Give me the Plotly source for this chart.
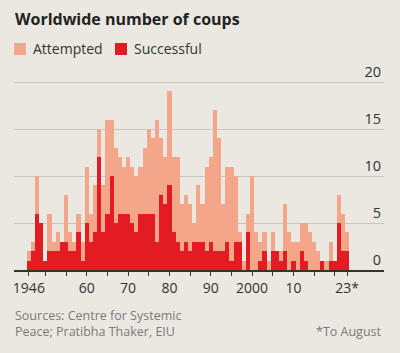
import plotly.graph_objects as go

years = list(range(1946, 2024))
attempted = [2, 3, 10, 5, 1, 6, 3, 4, 3, 8, 4, 3, 6, 3, 11, 6, 9, 15, 9, 16,
             16, 13, 12, 11, 12, 11, 10, 11, 13, 15, 14, 16, 14, 12, 19, 12, 12, 7, 8, 7,
             5, 9, 7, 11, 12, 17, 14, 7, 11, 11, 10, 4, 1, 6, 10, 4, 3, 4, 1, 4,
             2, 2, 7, 4, 3, 3, 5, 5, 4, 3, 2, 1, 1, 3, 1, 8, 6, 4]
successful = [1, 2, 6, 5, 1, 2, 2, 2, 3, 3, 2, 2, 4, 1, 5, 3, 4, 12, 4, 6,
              10, 5, 6, 6, 6, 5, 4, 6, 6, 6, 6, 3, 8, 7, 9, 4, 3, 2, 3, 2,
              3, 3, 3, 2, 3, 2, 2, 2, 3, 1, 3, 3, 0, 4, 0, 0, 1, 2, 0, 2,
              2, 1, 2, 0, 1, 0, 2, 1, 0, 0, 0, 1, 0, 1, 1, 5, 2, 2]

x_tickvals = [1946, 1950, 1955, 1960, 1965, 1970, 1975, 1980, 1985, 1990, 1995,
              2000, 2005, 2010, 2015, 2020, 2023]
x_ticktext = ["1946", "", "", "60", "", "70", "", "80", "", "90", "",
              "2000", "", "10", "", "", "23*"]
y_tickvals = [0, 5, 10, 15, 20]
y_ticktext = ["0", "5", "10", "15", "20"]

PINK = "#F4A68B"
RED = "#E31B23"
BG = "#EAE8E0"
FONT = "Open Sans"

W, H = 400, 353
ML, MR, MT, MB = 14, 16, 61, 83
PW = W - ML - MR
PH = H - MT - MB
YTOP = PH / 9.4


def px(xp):
    return (xp - ML) / PW


def py(yp):
    return (H - MB - yp) / PH


fig = go.Figure()
fig.add_trace(go.Bar(x=years, y=attempted, marker=dict(color=PINK, line=dict(width=0)),
                     width=1, name="Attempted", showlegend=False))
fig.add_trace(go.Bar(x=years, y=successful, marker=dict(color=RED, line=dict(width=0)),
                     width=1, name="Successful", showlegend=False))

shapes = [
    dict(type="rect", xref="paper", yref="paper", x0=px(14), x1=px(26), y0=py(55), y1=py(43),
         fillcolor=PINK, line=dict(width=0)),
    dict(type="rect", xref="paper", yref="paper", x0=px(115), x1=px(127), y0=py(55), y1=py(43),
         fillcolor=RED, line=dict(width=0)),
]

annotations = [
    dict(text="<b>Worldwide number of coups</b>", xref="paper", yref="paper", x=px(13), y=py(19),
         xanchor="left", yanchor="middle", showarrow=False,
         font=dict(family=FONT, size=16, color="#222222")),
    dict(text="Attempted", xref="paper", yref="paper", x=px(31), y=py(49),
         xanchor="left", yanchor="middle", showarrow=False,
         font=dict(family=FONT, size=14, color="#333333")),
    dict(text="Successful", xref="paper", yref="paper", x=px(132), y=py(49),
         xanchor="left", yanchor="middle", showarrow=False,
         font=dict(family=FONT, size=14, color="#333333")),
    dict(text="Sources: Centre for Systemic<br>Peace; Pratibha Thaker, EIU", xref="paper", yref="paper",
         x=px(13), y=py(323), xanchor="left", yanchor="middle", align="left", showarrow=False,
         font=dict(family=FONT, size=12.5, color="#7a7a7a")),
    dict(text="*To August", xref="paper", yref="paper", x=px(384), y=py(331),
         xanchor="right", yanchor="middle", showarrow=False,
         font=dict(family=FONT, size=12.5, color="#7a7a7a")),
]

fig.update_layout(
    width=W, height=H,
    margin=dict(l=ML, r=MR, t=MT, b=MB, pad=0),
    paper_bgcolor=BG, plot_bgcolor=BG,
    barmode="overlay", bargap=0,
    shapes=shapes, annotations=annotations,
    showlegend=False,
    font=dict(family=FONT, color="#333333"),
)
fig.update_xaxes(
    range=[1942.4, 2031.9], tickvals=x_tickvals, ticktext=x_ticktext,
    showgrid=False, zeroline=False,
    showline=True, linecolor="#333333", linewidth=2,
    ticks="outside", ticklen=4, tickwidth=1, tickcolor="#333333",
    tickfont=dict(family=FONT, size=14, color="#333333"),
    fixedrange=True,
)
fig.update_yaxes(
    range=[0, YTOP], tickvals=y_tickvals, ticktext=y_ticktext,
    side="right", ticklabelposition="inside top",
    showgrid=True, gridcolor="#C8C6BE", gridwidth=1, zeroline=False,
    showline=False, ticks="",
    tickfont=dict(family=FONT, size=14.5, color="#333333"),
    fixedrange=True,
)

fig.write_html("out.html")
